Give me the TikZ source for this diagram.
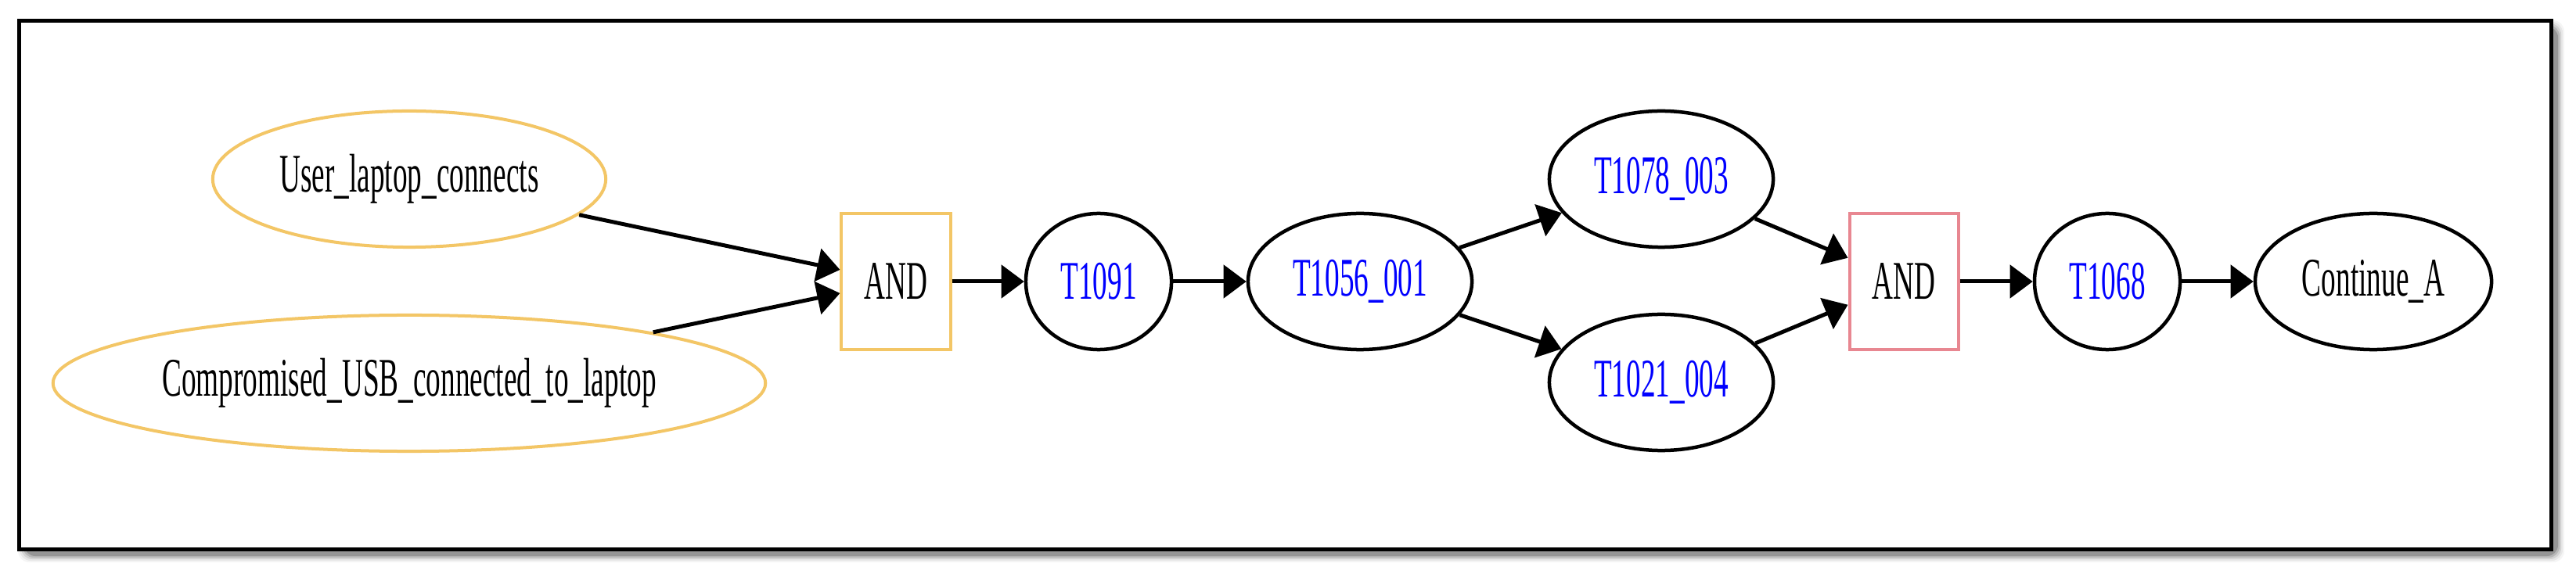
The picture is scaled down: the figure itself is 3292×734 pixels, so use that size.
\documentclass[tikz,border=0pt]{standalone}
\usepackage{fontspec}
\setmainfont{Liberation Serif}
\usetikzlibrary{shapes.geometric,arrows.meta}
\definecolor{gvorange}{RGB}{243,198,102}
\definecolor{gvred}{RGB}{232,135,145}
\definecolor{gvblue}{RGB}{0,0,255}
\newcommand{\gvtxt}[1]{\scalebox{0.535}[1]{\fontsize{19.8}{20}\selectfont #1}}
\tikzset{
  ell/.style={ellipse,draw=black,line width=0.045cm,inner sep=0pt,minimum height=1.74cm},
  orell/.style={ellipse,draw=gvorange,line width=0.04cm,inner sep=0pt,minimum height=1.74cm},
  andbox/.style={rectangle,line width=0.04cm,inner sep=0pt,minimum width=1.39cm,minimum height=1.74cm},
  tech/.style={text=gvblue},
  edge/.style={line width=0.05cm,-{Triangle[length=8.3pt,width=12pt]}}
}
\begin{document}
\begin{tikzpicture}[x=0.01cm,y=-0.01cm]
\useasboundingbox (0,0) rectangle (3292,734);
% frame shadow
\foreach \b/\o in {9/0.04,7/0.06,5/0.09,3/0.13,1/0.18}{
  \fill[black,opacity=\o,rounded corners=4] (32-\b,35-\b) rectangle (3268+\b,710+\b);
}
\fill[white] (24.5,27) rectangle (3260.5,702.5);
\draw[line width=0.05cm] (24.5,27) rectangle (3260.5,702.5);
% nodes
\node[orell,minimum width=5.02cm] (u) at (523,229) {\gvtxt{User\_laptop\_connects}};
\node[orell,minimum width=9.10cm] (c) at (523,490) {\gvtxt{Compromised\_USB\_connected\_to\_laptop}};
\node[andbox,draw=gvorange] (and1) at (1145,360) {\gvtxt{AND}};
\node[ell,tech,minimum width=1.86cm] (t1091) at (1404,360) {\gvtxt{T1091}};
\node[ell,tech,minimum width=2.86cm] (t1056) at (1738,360) {\gvtxt{T1056\_001}};
\node[ell,tech,minimum width=2.86cm] (t1078) at (2123,229) {\gvtxt{T1078\_003}};
\node[ell,tech,minimum width=2.86cm] (t1021) at (2123,489) {\gvtxt{T1021\_004}};
\node[andbox,draw=gvred] (and2) at (2433,360) {\gvtxt{AND}};
\node[ell,tech,minimum width=1.86cm] (t1068) at (2693,360) {\gvtxt{T1068}};
\node[ell,minimum width=3.02cm] (cont) at (3033,360) {\gvtxt{Continue\_A}};
% edges
\draw[edge] (u) -- (and1);
\draw[edge] (c) -- (and1);
\draw[edge] (and1) -- (t1091);
\draw[edge] (t1091) -- (t1056);
\draw[edge] (t1056) -- (t1078);
\draw[edge] (t1056) -- (t1021);
\draw[edge] (t1078) -- (and2);
\draw[edge] (t1021) -- (and2);
\draw[edge] (and2) -- (t1068);
\draw[edge] (t1068) -- (cont);
\end{tikzpicture}
\end{document}
